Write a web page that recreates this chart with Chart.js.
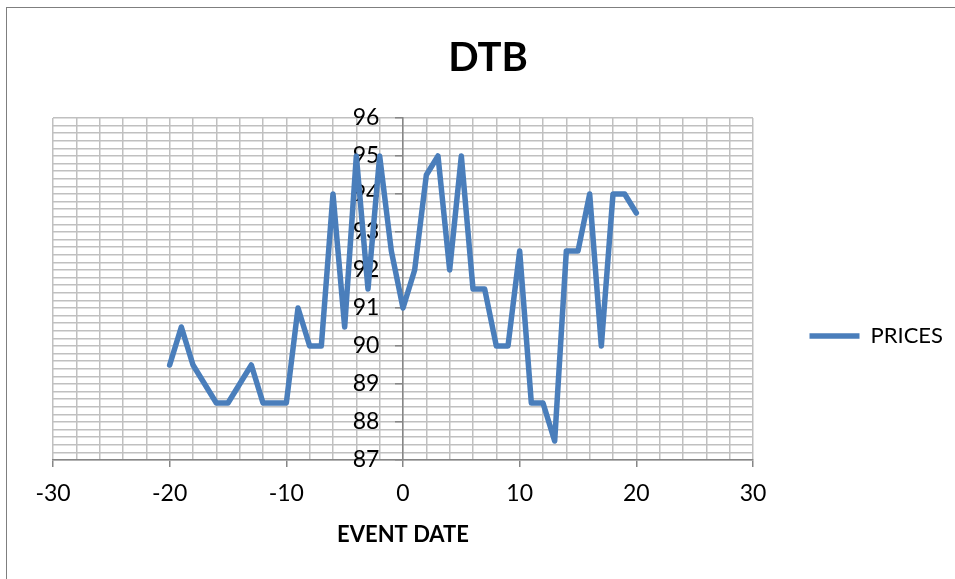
<!DOCTYPE html>
<html>
<head>
<meta charset="utf-8">
<script src="https://cdn.jsdelivr.net/npm/chart.js@4/dist/chart.umd.min.js"></script>
<style>
  html, body { margin: 0; padding: 0; background: #fff; overflow: hidden; }
  #frame { position: absolute; left: 6px; top: 7px; width: 1200px; height: 1000px;
           border-left: 1px solid #7f7f7f; border-top: 1px solid #7f7f7f; }
  #c { position: absolute; left: 0; top: 0; }
</style>
</head>
<body>
<div id="frame"></div>
<canvas id="c" width="955" height="579"></canvas>
<script>
// Days relative to the event, and the DTB price on each day
const eventDays = [-20, -19, -18, -17, -16, -15, -14, -13, -12, -11, -10,
                   -9, -8, -7, -6, -5, -4, -3, -2, -1, 0,
                   1, 2, 3, 4, 5, 6, 7, 8, 9, 10,
                   11, 12, 13, 14, 15, 16, 17, 18, 19, 20];
const prices = [89.5, 90.5, 89.5, 89.0, 88.5, 88.5, 89.0, 89.5, 88.5, 88.5, 88.5,
                91.0, 90.0, 90.0, 94.0, 90.5, 95.0, 91.5, 95.0, 92.5, 91.0,
                92.0, 94.5, 95.0, 92.0, 95.0, 91.5, 91.5, 90.0, 90.0, 92.5,
                88.5, 88.5, 87.5, 92.5, 92.5, 94.0, 90.0, 94.0, 94.0, 93.5];

// Labelled tick values on each axis
const xLabels = [-30, -20, -10, 0, 10, 20, 30];
const yLabels = [87, 88, 89, 90, 91, 92, 93, 94, 95, 96];

const FONT = 'Lato, "Open Sans", "Liberation Sans", sans-serif';
const LINE_BLUE = '#4a7ebb';
const GRID = '#c0c0c0';
const AXIS = '#868686';
// gap between the price labels and the vertical axis at day 0
const Y_LABEL_GAP = '    ';

const isXLabel = v => xLabels.some(l => Math.abs(l - v) < 1e-6);
const yLabelFor = v => yLabels.find(l => Math.abs(l - v) < 1e-6);

new Chart(document.getElementById('c'), {
  type: 'line',
  data: {
    datasets: [{
      label: 'PRICES',
      data: eventDays.map((d, i) => ({ x: d, y: prices[i] })),
      xAxisID: 'x',
      yAxisID: 'y',
      borderColor: LINE_BLUE,
      backgroundColor: LINE_BLUE,
      borderWidth: 5.5,
      borderJoinStyle: 'round',
      borderCapStyle: 'round',
      pointRadius: 0,
      pointHoverRadius: 0,
      tension: 0,
      fill: false
    }]
  },
  options: {
    responsive: false,
    devicePixelRatio: 1,
    animation: false,
    events: [],
    layout: { padding: { left: 31, right: 10, top: 0, bottom: 31 } },
    plugins: {
      title: {
        display: true,
        text: 'DTB',
        color: '#000',
        font: { family: FONT, size: 40, weight: 'bold' },
        padding: { top: 34, bottom: 36 }
      },
      legend: {
        display: true,
        position: 'right',
        align: 'start',
        maxWidth: 192,
        title: { display: true, text: '', padding: { top: 254, bottom: 0 } },
        labels: {
          usePointStyle: true,
          pointStyle: 'line',
          pointStyleWidth: 50,
          padding: 56.5,
          color: '#000',
          font: { family: FONT, size: 22 }
        }
      },
      tooltip: { enabled: false }
    },
    scales: {
      x: {
        type: 'linear',
        position: 'bottom',
        min: -30,
        max: 30,
        ticks: {
          stepSize: 2,
          autoSkip: false,
          maxRotation: 0,
          padding: 13,
          color: '#000',
          font: { family: FONT, size: 23 },
          callback: v => isXLabel(v) ? String(v) : ''
        },
        grid: {
          color: GRID,
          lineWidth: 1.5,
          tickLength: 7,
          tickWidth: 1.5,
          tickColor: c => isXLabel(c.tick.value) ? AXIS : 'rgba(0,0,0,0)'
        },
        border: { color: AXIS, width: 1.5 },
        title: {
          display: true,
          text: 'EVENT DATE',
          color: '#000',
          font: { family: FONT, size: 22, weight: 'bold' },
          padding: { top: 1, bottom: 0 }
        }
      },
      y: {
        type: 'linear',
        position: { x: 0 },
        min: 87,
        max: 96,
        ticks: {
          stepSize: 0.2,
          autoSkip: false,
          padding: 18,
          color: '#000',
          font: { family: FONT, size: 23 },
          callback: v => { const l = yLabelFor(v); return l === undefined ? '' : String(l) + Y_LABEL_GAP; }
        },
        grid: {
          color: GRID,
          lineWidth: 1.5,
          tickLength: 7,
          tickWidth: 1.5,
          tickColor: c => yLabelFor(c.tick.value) !== undefined ? AXIS : 'rgba(0,0,0,0)'
        },
        border: { color: AXIS, width: 1.5 }
      },
      gutter: {
        type: 'linear',
        position: 'left',
        display: true,
        grid: { display: false },
        border: { display: false },
        ticks: { display: false },
        afterFit: s => { s.width = 22; }
      }
    }
  }
});
</script>
</body>
</html>
